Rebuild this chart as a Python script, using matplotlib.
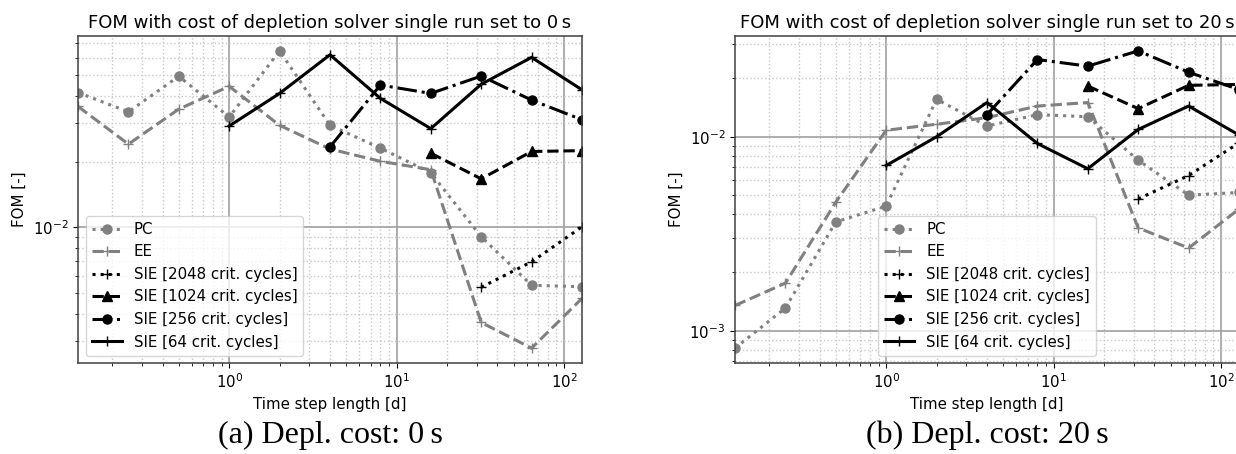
import numpy as np
import matplotlib
matplotlib.use("Agg")
import matplotlib.pyplot as plt

# time step lengths [d]
steps = [0.125, 0.25, 0.5, 1, 2, 4, 8, 16, 32, 64, 128]

# ---- (a) depletion cost 0 s ----
a_pc = [0.0416, 0.0339, 0.0494, 0.0321, 0.0646, 0.0294, 0.0231, 0.0178, 0.00906, 0.00542, 0.00534]
a_ee = [0.0359, 0.0241, 0.0349, 0.0444, 0.0294, 0.0229, 0.0201, 0.0184, 0.00366, 0.00279, 0.00472]
a_sie2048 = [0.00531, 0.00695, 0.01006]            # from 32 d
a_sie1024 = [0.0219, 0.0167, 0.0223, 0.0225]       # from 16 d
a_sie256 = [0.0234, 0.0450, 0.0412, 0.0495, 0.0384, 0.0312]  # from 4 d
a_sie64 = [0.0292, 0.0412, 0.0620, 0.0391, 0.0284, 0.0454, 0.0603, 0.0428]  # from 1 d

# ---- (b) depletion cost 20 s ----
b_pc = [0.000814, 0.00131, 0.00364, 0.00439, 0.0156, 0.01135, 0.0130, 0.01268, 0.00757, 0.00500, 0.00516]
b_ee = [0.00135, 0.00176, 0.0046, 0.0108, 0.0116, 0.01254, 0.01439, 0.0150, 0.00339, 0.00267, 0.00424]
b_sie2048 = [0.00478, 0.00631, 0.0093]
b_sie1024 = [0.01824, 0.01396, 0.0184, 0.0186]
b_sie256 = [0.0130, 0.0250, 0.0231, 0.0277, 0.0215, 0.0175]
b_sie64 = [0.00711, 0.0100, 0.0150, 0.00923, 0.00684, 0.0109, 0.01439, 0.0102]

labels = ["PC", "EE", "SIE [2048 crit. cycles]", "SIE [1024 crit. cycles]",
          "SIE [256 crit. cycles]", "SIE [64 crit. cycles]"]
titles = ["FOM with cost of depletion solver single run set to 0\u2009s",
          "FOM with cost of depletion solver single run set to 20\u2009s"]
captions = ["(a) Depl. cost: 0\u2009s", "(b) Depl. cost: 20\u2009s"]

W, H = 1236, 454
fig = plt.figure(figsize=(W / 100, H / 100), dpi=100)

axes_px = [(78, 36, 582, 363), (735, 36, 1239, 363)]
legend_locs = ["lower left", "lower center"]
datasets = [
    (a_pc, a_ee, a_sie2048, a_sie1024, a_sie256, a_sie64),
    (b_pc, b_ee, b_sie2048, b_sie1024, b_sie256, b_sie64),
]

grey = "#808080"
styles = [
    dict(color=grey, ls=":", marker="o", ms=6.5),
    dict(color=grey, ls="--", marker="+", ms=7.5),
    dict(color="black", ls=":", marker="+", ms=7.5),
    dict(color="black", ls="--", marker="^", ms=6.5),
    dict(color="black", ls="-.", marker="o", ms=6.5),
    dict(color="black", ls="-", marker="+", ms=7.5),
]
fs = 10.8

for i, (x0, y0, x1, y1) in enumerate(axes_px):
    ax = fig.add_axes([x0 / W, 1 - y1 / H, (x1 - x0) / W, (y1 - y0) / H])
    ds = datasets[i]
    for j, (vals, st) in enumerate(zip(ds, styles)):
        xs = steps[len(steps) - len(vals):]
        ax.plot(xs, vals, lw=2.2, label=labels[j], **st)
    ax.set_xscale("log")
    ax.set_yscale("log")
    ax.set_xlim(steps[0], steps[-1])
    ax.grid(which="major", color="#a0a0a0", ls="-", lw=1.2)
    ax.grid(which="minor", color="#c8c8c8", ls=":", lw=1.0)
    ax.set_axisbelow(True)
    ax.set_title(titles[i], fontsize=13)
    ax.set_xlabel("Time step length [d]", fontsize=fs)
    ax.set_ylabel("FOM [-]", fontsize=fs)
    ax.tick_params(labelsize=fs)
    for sp in ax.spines.values():
        sp.set_color("#404040")
        sp.set_linewidth(1.1)
    ax.legend(loc=legend_locs[i], fontsize=fs)
    cx = (x0 + x1) / 2 / W
    fig.text(cx, 1 - 435 / H, captions[i], ha="center", va="center",
             family="Liberation Serif", fontsize=23)

fig.savefig("out.png", dpi=100)
